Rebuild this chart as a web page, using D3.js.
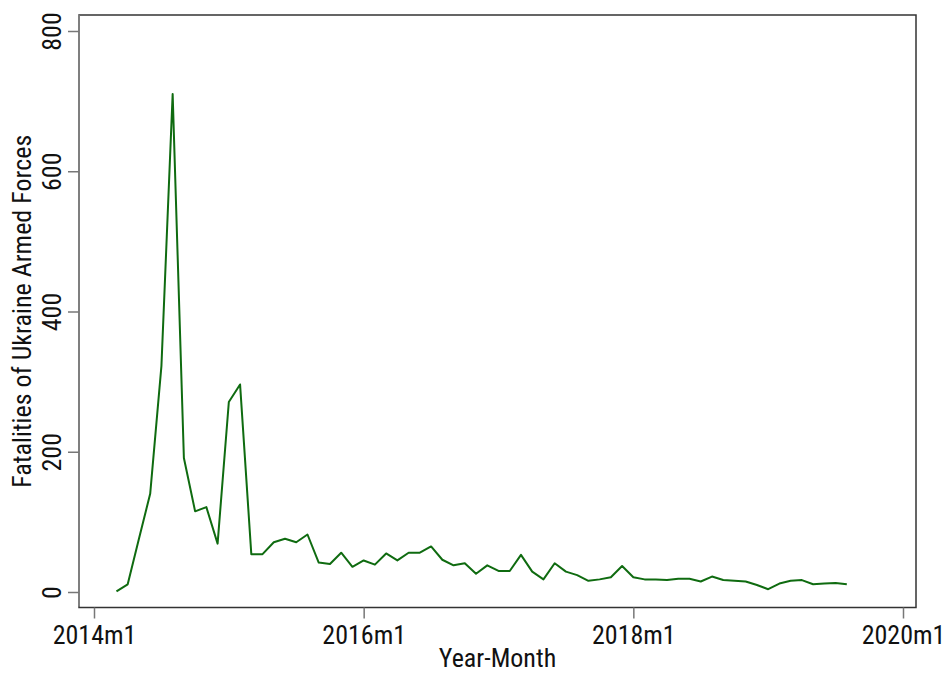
<!DOCTYPE html>
<meta charset="utf-8">
<style>
body { margin: 0; background: #fff; }
text { font-family: "Roboto Condensed", "DejaVu Sans Condensed", "Roboto", sans-serif; fill: #111; }
.frame { fill: none; stroke: #333; stroke-width: 1.5px; }
.yframe { stroke: #888; stroke-width: 1.5px; }
.tick line { stroke: #777; stroke-width: 1.5px; }
.series { fill: none; stroke: #0f6b10; stroke-width: 2px; stroke-linejoin: round; }
</style>
<svg width="942" height="673"></svg>
<script src="https://d3js.org/d3.v7.min.js"></script>
<script>
var svg = d3.select("svg");

// monthly fatalities, starting 2014m3 (month index 2, 2014m1 = 0)
var startMonth = 2;
var fatalities2014 = [1, 11, 76, 140, 322, 710, 191, 115, 121, 69];
var fatalities2015 = [271, 296, 54, 54, 71, 76, 71, 82, 42, 40, 56, 36];
var fatalities2016 = [45, 39, 55, 45, 56, 56, 65, 46, 38, 41, 26, 38];
var fatalities2017 = [30, 30, 53, 29, 18, 41, 29, 24, 16, 18, 21, 37];
var fatalities2018 = [21, 18, 18, 17, 19, 19, 15, 22, 17, 16, 15, 10];
var fatalities2019 = [4, 12, 16, 17, 11, 12, 13, 11];

var xTicks = [0, 24, 48, 72];
var xTickLabels = ["2014m1", "2016m1", "2018m1", "2020m1"];
var yTicks = [0, 200, 400, 600, 800];

var values = [].concat(fatalities2014, fatalities2015, fatalities2016,
                       fatalities2017, fatalities2018, fatalities2019);
var data = values.map(function(v, i) { return {m: startMonth + i, v: v}; });

// plot region (Stata style frame)
var plotLeft = 79, plotRight = 916, plotTop = 15, plotBottom = 607.5;
var fontSize = 26;

var x = d3.scaleLinear().domain([0, 72]).range([94, 903]);
var y = d3.scaleLinear().domain([0, 800]).range([592, 31]);

svg.append("rect")
    .attr("class", "frame")
    .attr("x", plotLeft).attr("y", plotTop)
    .attr("width", plotRight - plotLeft).attr("height", plotBottom - plotTop);

// the left edge is drawn lighter in the original
svg.append("line")
    .attr("class", "yframe")
    .attr("x1", plotLeft).attr("x2", plotLeft)
    .attr("y1", plotTop).attr("y2", plotBottom - 1);

// x axis
var xAxis = svg.append("g")
    .attr("transform", "translate(0," + plotBottom + ")")
    .call(d3.axisBottom(x)
        .tickValues(xTicks)
        .tickSize(11)
        .tickPadding(7)
        .tickFormat(function(d, i) { return xTickLabels[i]; }));
xAxis.select(".domain").remove();
xAxis.selectAll("text").attr("font-size", fontSize).style("font-family", null);

// y axis, labels rotated like Stata
var yAxis = svg.append("g")
    .attr("transform", "translate(" + plotLeft + ",0)")
    .call(d3.axisLeft(y).tickValues(yTicks).tickSize(11).tickFormat(d3.format("d")));
yAxis.select(".domain").remove();
yAxis.selectAll("text")
    .attr("font-size", fontSize)
    .attr("x", null).attr("dy", null)
    .attr("text-anchor", "middle")
    .attr("transform", "translate(-18,0) rotate(-90)")
    .style("font-family", null);

svg.append("text")
    .attr("x", (plotLeft + plotRight) / 2).attr("y", 667)
    .attr("text-anchor", "middle")
    .attr("font-size", fontSize)
    .text("Year-Month");

svg.append("text")
    .attr("transform", "translate(31," + ((plotTop + plotBottom) / 2) + ") rotate(-90)")
    .attr("text-anchor", "middle")
    .attr("font-size", fontSize)
    .text("Fatalities of Ukraine Armed Forces");

var line = d3.line()
    .x(function(d) { return x(d.m); })
    .y(function(d) { return y(d.v); });

svg.append("path")
    .datum(data)
    .attr("class", "series")
    .attr("d", line);
</script>
